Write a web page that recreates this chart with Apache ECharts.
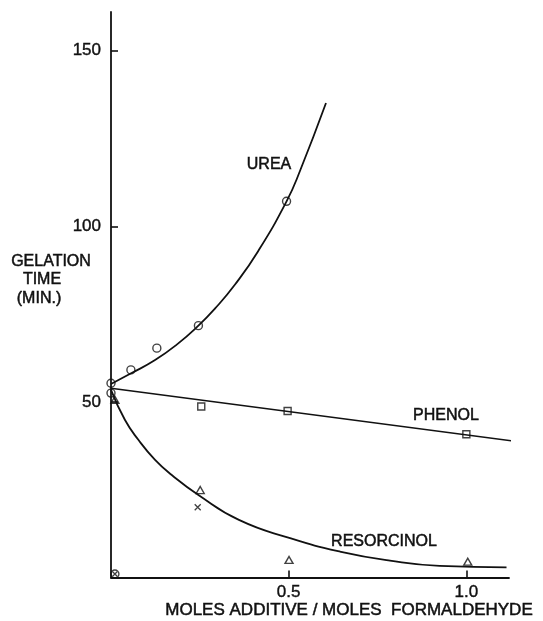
<!DOCTYPE html>
<html><head><meta charset="utf-8">
<script src="https://cdn.jsdelivr.net/npm/echarts@6/dist/echarts.min.js"></script>
<style>html,body{margin:0;padding:0;background:#fff}#c{width:543px;height:621px}</style>
</head><body><div id="c"></div>
<script>
// ---- data ----
const yTicks = [50, 100, 150];
const xTicks = [0.5, 1.0];
const ureaPoints = [[0, 55.3], [0.056, 59.1], [0.129, 65.3], [0.246, 71.7], [0.494, 107.1]];
const ureaCurve = [[0, 55.1], [0.058, 58.2], [0.124, 61.9], [0.185, 66.3], [0.246, 71.7], [0.293, 76.6], [0.349, 83.4], [0.414, 92.9], [0.494, 107.1], [0.532, 115.8], [0.605, 135.1]];
const phenolPoints = [[0.254, 48.7], [0.497, 47.4], [1.0, 40.8]];
const phenolLine = [[0, 53.9], [1.128, 38.9]];
const resorcinolPoints = [[0.011, 50.6], [0.251, 24.9], [0.501, 5.0], [1.004, 4.5]];
const resorcinolCurve = [[0, 53.4], [0.039, 44.9], [0.077, 39.2], [0.124, 33.5], [0.171, 29.2], [0.246, 23.5], [0.36, 16.4], [0.504, 11.2], [0.644, 7.4], [0.785, 4.8], [0.925, 3.3], [1.113, 2.9]];
const crossPoints = [[0.244, 20.0]];
const extraCircles = [[0, 52.5]];
const originMark = [[0.011, 1.0]];

const FONT = '"Liberation Sans", Arial, sans-serif';
const ink = '#111';

const chart = echarts.init(document.getElementById('c'), null, {renderer: 'canvas'});
const openSym = {color: 'rgba(0,0,0,0)', borderColor: ink, borderWidth: 1.4};
const crossPath = 'path://M0,0L10,10M10,0L0,10';
const txt = (x, y, s, size) => ({type: 'text', x: x, y: y, style: {text: s, font: (size || 16) + 'px ' + FONT, fill: ink, stroke: ink, lineWidth: 0.5, textAlign: 'center', textVerticalAlign: 'middle'}});

chart.setOption({
  animation: false,
  backgroundColor: '#fff',
  grid: {left: 111, right: 34, top: 12, bottom: 43.5},
  xAxis: {
    type: 'value', min: 0, max: 1.12,
    axisLine: {show: true, onZero: false, lineStyle: {color: ink, width: 1.8}},
    axisTick: {show: true, inside: true, length: 7, customValues: xTicks, lineStyle: {color: ink, width: 1.6}},
    axisLabel: {customValues: xTicks, formatter: v => v.toFixed(1), color: ink, fontFamily: FONT, fontSize: 17, margin: 6, textBorderColor: ink, textBorderWidth: 0.4},
    splitLine: {show: false}
  },
  yAxis: {
    type: 'value', min: 0, max: 161,
    axisLine: {show: true, onZero: false, lineStyle: {color: ink, width: 1.8}},
    axisTick: {show: true, inside: true, length: 7, customValues: yTicks, lineStyle: {color: ink, width: 1.6}},
    axisLabel: {customValues: yTicks, color: ink, fontFamily: FONT, fontSize: 17, margin: 10, textBorderColor: ink, textBorderWidth: 0.4},
    splitLine: {show: false}
  },
  series: [
    {type: 'line', data: ureaCurve, smooth: 0.5, showSymbol: false, lineStyle: {color: ink, width: 1.8}, silent: true},
    {type: 'line', data: phenolLine, showSymbol: false, clip: false, lineStyle: {color: ink, width: 1.6}, silent: true},
    {type: 'line', data: resorcinolCurve, smooth: 0.5, showSymbol: false, lineStyle: {color: ink, width: 1.8}, silent: true},
    {type: 'scatter', data: ureaPoints, symbol: 'circle', symbolSize: 8, itemStyle: openSym, clip: false},
    {type: 'scatter', data: extraCircles, symbol: 'circle', symbolSize: 8, itemStyle: openSym, clip: false},
    {type: 'scatter', data: phenolPoints, symbol: 'rect', symbolSize: 7, itemStyle: openSym},
    {type: 'scatter', data: resorcinolPoints, symbol: 'triangle', symbolSize: [8, 7], itemStyle: openSym},
    {type: 'scatter', data: crossPoints, symbol: crossPath, symbolSize: 6, itemStyle: {color: 'rgba(0,0,0,0)', borderColor: ink, borderWidth: 1.3}},
    {type: 'scatter', data: originMark, symbol: 'circle', symbolSize: 8, itemStyle: openSym, clip: false},
    {type: 'scatter', data: originMark, symbol: crossPath, symbolSize: 5, itemStyle: {color: 'rgba(0,0,0,0)', borderColor: ink, borderWidth: 1.3}, clip: false}
  ],
  graphic: [
    txt(51, 262, 'GELATION'),
    txt(42, 280, 'TIME'),
    txt(39, 299, '(MIN.)'),
    txt(269, 165, 'UREA'),
    txt(446, 416, 'PHENOL'),
    txt(384, 542, 'RESORCINOL'),
    txt(349, 610, 'MOLES ADDITIVE / MOLES  FORMALDEHYDE', 17)
  ]
});
</script></body></html>
